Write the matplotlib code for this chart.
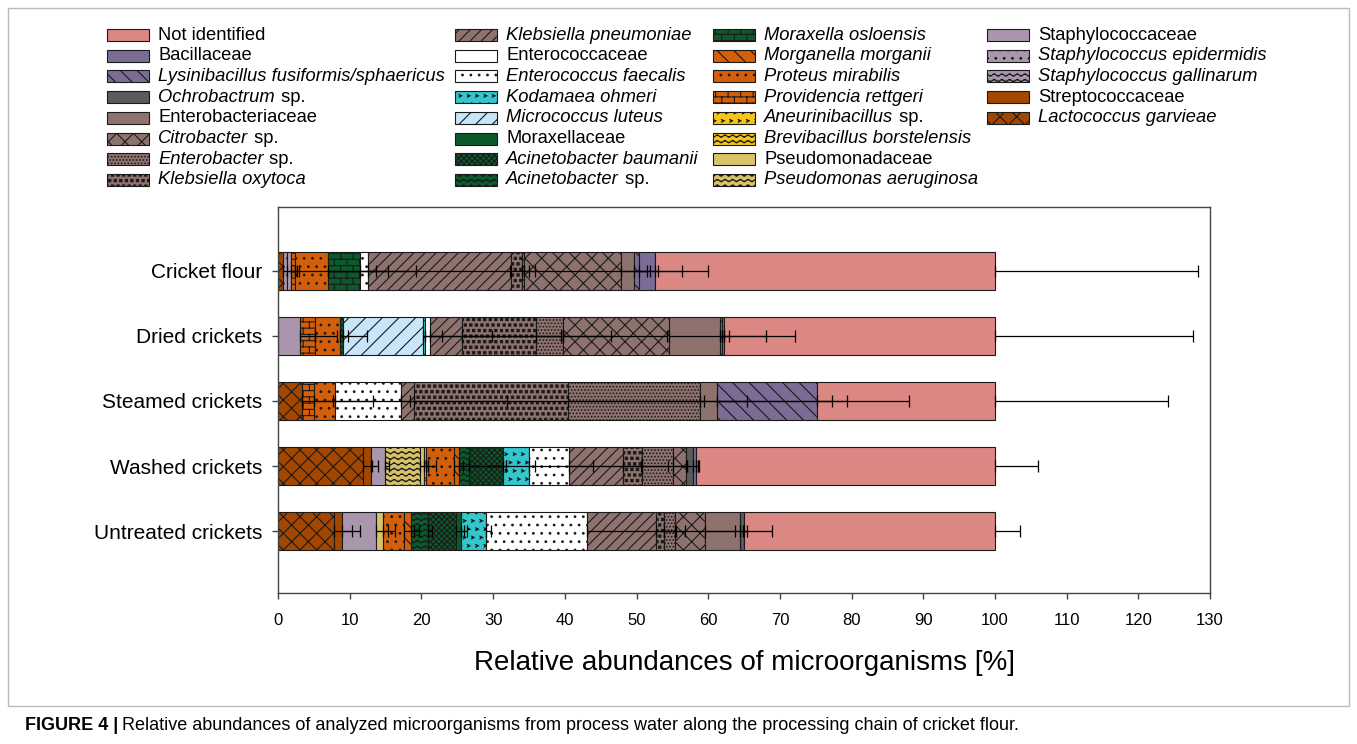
import warnings
import numpy as np
import matplotlib
matplotlib.use('Agg')
import matplotlib.pyplot as plt
import matplotlib.hatch as mhatch
from matplotlib.path import Path
from matplotlib.patches import Rectangle

warnings.filterwarnings('ignore', message='.*hatch must consist.*')

plt.rcParams['font.family'] = ['Liberation Sans', 'DejaVu Sans']
plt.rcParams['hatch.linewidth'] = 0.8

# ---- data (order = legend order) ----
species = ['Not identified', 'Bacillaceae', 'Lysinibacillus fusiformis/sphaericus', 'Ochrobactrum sp.',
           'Enterobacteriaceae', 'Citrobacter sp.', 'Enterobacter sp.', 'Klebsiella oxytoca',
           'Klebsiella pneumoniae', 'Enterococcaceae', 'Enterococcus faecalis', 'Kodamaea ohmeri',
           'Micrococcus luteus', 'Moraxellaceae', 'Acinetobacter baumanii', 'Acinetobacter sp.',
           'Moraxella osloensis', 'Morganella morganii', 'Proteus mirabilis', 'Providencia rettgeri',
           'Aneurinibacillus sp.', 'Brevibacillus borstelensis', 'Pseudomonadaceae', 'Pseudomonas aeruginosa',
           'Staphylococcaceae', 'Staphylococcus epidermidis', 'Staphylococcus gallinarum',
           'Streptococcaceae', 'Lactococcus garvieae']

samples = ['Untreated crickets', 'Washed crickets', 'Steamed crickets', 'Dried crickets', 'Cricket flour']

untreated = [35.0, 0, 0, 0.5, 4.9, 4.2, 1.5, 1.2, 9.65, 0, 14.05, 3.5, 0, 0.7, 3.85, 2.45, 0,
             0.9, 2.9, 0, 0, 0, 1.0, 0, 4.8, 0, 0, 1.05, 7.85]
untreated_sd = [3.5, 0, 0, 0.4, 4.4, 4.2, 9.5, 1.4, 4.1, 0, 12.45, 0.7, 0, 0.5, 1.6, 0.55, 0,
                0.5, 2.0, 0, 0, 0, 0.7, 0, 2.6, 0, 0, 2.5, 2.45]

washed = [41.7, 0.4, 0, 1.0, 0, 1.8, 4.4, 2.65, 7.45, 0, 5.55, 3.65, 0, 0, 4.7, 1.45, 0,
          0.65, 3.9, 0, 0.3, 0, 0.6, 4.9, 1.93, 0, 0, 1.07, 11.9]
washed_sd = [6.0, 0.3, 0, 0.8, 0, 0.2, 3.5, 6.3, 2.6, 0, 13.8, 8.95, 0, 0, 0.4, 9.1, 0,
             0.6, 7.2, 0, 0.2, 0, 1.6, 1.1, 0.6, 0, 0, 1.03, 1.2]

steamed = [24.8, 0, 14.0, 0, 2.4, 0, 18.3, 21.53, 1.77, 0, 9.22, 0, 0, 0, 0, 0, 0,
           0, 2.98, 1.7, 0, 0, 0, 0, 0, 0, 0, 0, 3.3]
steamed_sd = [24.1, 0, 12.8, 0, 18.1, 0, 18.5, 24.9, 40.5, 0, 14.7, 0, 0, 0, 0, 0, 0,
              0, 10.4, 8.3, 0, 0, 0, 0, 0, 0, 0, 0, 4.3]

dried = [37.8, 0.3, 0.2, 0, 7.1, 14.8, 3.75, 10.45, 4.35, 0.7, 0, 0.35, 11.1, 0, 0, 0.47, 0,
         0, 3.44, 2.16, 0, 0, 0, 0, 3.03, 0, 0, 0, 0]
dried_sd = [27.6, 9.9, 0.3, 0, 6.3, 8.3, 14.4, 10.35, 14.1, 18.15, 0, 9.25, 2.6, 0, 0, 0.7, 0,
            0, 3.82, 3.0, 0, 0, 0, 0, 2.17, 0, 0, 0, 0]

flour = [47.4, 2.2, 0.75, 0, 1.75, 13.6, 0.3, 1.5, 19.9, 0, 1.2, 0, 0, 0, 0, 0, 4.4,
         0, 4.6, 0.6, 0, 0, 0, 0, 0.5, 0.6, 0, 0, 0.7]
flour_sd = [28.3, 0.4, 1.5, 0, 6.75, 3.6, 25.7, 1.8, 2.5, 0, 2.8, 0, 0, 0, 0, 0, 21.0,
            0, 12.2, 11.2, 0, 0, 0, 0, 1.1, 1.1, 0, 0, 1.9]

# ---- styles ----
colors = ['#DB8784', '#7B6C96', '#7B6C96', '#5B5B5B',
          '#8E726E', '#8E726E', '#8E726E', '#8E726E',
          '#8E726E', '#FFFFFF', '#FFFFFF', '#33C6CC',
          '#C7E6FA', '#0C5A2B', '#0C5A2B', '#0C5A2B',
          '#0C5A2B', '#D35F0A', '#D35F0A', '#D35F0A',
          '#F5C518', '#F5C518', '#D8C36A', '#D8C36A',
          '#A996AD', '#A996AD', '#A996AD',
          '#A34700', '#A34700']
hatches = [None, None, '\\\\', None,
           None, 'xx', '.....', 'sss',
           '///', None, '..', '>>>',
           '//', None, 'xxxxxx', '~~~',
           'bb', '\\\\', '..', 'bb',
           '>>>', '~~~', None, '~~~',
           None, '..', '~~~',
           None, 'xx']
italic = [False, False, True, True, False, True, True, True, True, False, True, True, True, False,
          True, True, True, True, True, True, True, True, False, True, False, True, True, False, True]


# extra hatch patterns: '~' wavy lines, 'b' brick wall, 's' square dots, '>' chevrons
class WaveHatch(mhatch.HatchPatternBase):
    def __init__(self, hatch, density):
        self.num_lines = int(hatch.count('~') * density)
        self.num_waves = max(1, int(round(self.num_lines * 0.7)))
        self.pts = self.num_waves * 8 + 1
        self.num_vertices = self.num_lines * self.pts

    def set_vertices_and_codes(self, vertices, codes):
        xs = np.linspace(0.0, 1.0, self.pts)
        amp = 0.22 / self.num_lines
        for i in range(self.num_lines):
            y = (i + 0.5) / self.num_lines
            s = slice(i * self.pts, (i + 1) * self.pts)
            vertices[s, 0] = xs
            vertices[s, 1] = y + amp * np.sin(2 * np.pi * self.num_waves * xs)
            codes[s] = Path.LINETO
            codes[i * self.pts] = Path.MOVETO


class BrickHatch(mhatch.HatchPatternBase):
    def __init__(self, hatch, density):
        n = int(hatch.count('b') * density * 1.25)
        self.rows = n + n % 2
        self.cols = max(1, int(round(self.rows * 0.5))) if n else 0
        segs = self.rows + self.rows * self.cols + self.cols
        self.num_vertices = segs * 2 if n else 0

    def set_vertices_and_codes(self, vertices, codes):
        n, m = self.rows, self.cols
        segs = []
        for i in range(n):
            y = (i + 0.5) / n
            segs.append(((0.0, y), (1.0, y)))
        for i in range(n):
            y0 = (i + 0.5) / n
            y1 = min(y0 + 1.0 / n, 1.0)
            shift = 0.5 / m if i % 2 else 0.0
            for j in range(m):
                x = (j + 0.25) / m + shift
                segs.append(((x, y0), (x, y1)))
        shift = 0.5 / m if (n - 1) % 2 else 0.0
        for j in range(m):
            x = (j + 0.25) / m + shift
            segs.append(((x, 0.0), (x, 0.5 / n)))
        vertices[:] = np.array(segs).reshape(-1, 2)
        codes[0::2] = Path.MOVETO
        codes[1::2] = Path.LINETO


def _grid(n):
    pts = []
    for r in range(n):
        shift = 0.5 / n if r % 2 else 0.0
        for c in range(n):
            pts.append(((c + 0.25) / n + shift, (r + 0.5) / n))
    return pts


class SquareDotHatch(mhatch.HatchPatternBase):
    def __init__(self, hatch, density):
        self.n = int(hatch.count('s') * density)
        self.num_vertices = self.n * self.n * 5

    def set_vertices_and_codes(self, vertices, codes):
        a = 0.2 / self.n
        sq = np.array([[-a, -a], [a, -a], [a, a], [-a, a], [-a, -a]])
        for i, (x, y) in enumerate(_grid(self.n)):
            vertices[i * 5:(i + 1) * 5] = sq + [x, y]
            codes[i * 5:(i + 1) * 5] = [Path.MOVETO, Path.LINETO, Path.LINETO, Path.LINETO, Path.CLOSEPOLY]


class ChevronHatch(mhatch.HatchPatternBase):
    def __init__(self, hatch, density):
        self.n = int(hatch.count('>') * density * 0.7)
        self.num_vertices = self.n * self.n * 3

    def set_vertices_and_codes(self, vertices, codes):
        a = 0.16 / self.n
        shape = np.array([[-a, a], [a, 0.0], [-a, -a]])
        for i, (x, y) in enumerate(_grid(self.n)):
            vertices[i * 3:(i + 1) * 3] = shape + [x, y]
            codes[i * 3:(i + 1) * 3] = [Path.MOVETO, Path.LINETO, Path.LINETO]


mhatch._hatch_types.extend([WaveHatch, BrickHatch, SquareDotHatch, ChevronHatch])

values = np.array([untreated, washed, steamed, dried, flour])
errors = np.array([untreated_sd, washed_sd, steamed_sd, dried_sd, flour_sd])
ypos = np.arange(len(samples))

W, H = 1357, 744
fig = plt.figure(figsize=(W / 100, H / 100), dpi=100)
ax = fig.add_axes([0.2049, 0.2030, 0.6868, 0.5188])

edge = '#1a1a1a'
left = np.zeros(len(samples))
bar_ends = np.zeros_like(values)
for k in range(len(species) - 1, -1, -1):
    w = values[:, k]
    m = w > 0
    if m.any():
        ax.barh(ypos[m], w[m], left=left[m], height=0.58, color=colors[k], hatch=hatches[k],
                edgecolor=edge, linewidth=0.8, zorder=2)
    left = left + w
    bar_ends[:, k] = left

# error bars at the end of each segment, positive side only
for k in range(len(species)):
    for i in range(len(samples)):
        if values[i, k] > 0 and errors[i, k] > 0:
            ax.errorbar(bar_ends[i, k], ypos[i], xerr=[[0], [errors[i, k]]], fmt='none',
                        ecolor='black', elinewidth=0.9, capsize=4, capthick=0.9, zorder=4)

ax.set_xlim(0, 130)
ax.set_ylim(-0.95, 4.98)
ax.set_xticks(np.arange(0, 131, 10))
ax.set_yticks(ypos)
ax.set_yticklabels(samples, fontsize=15)
ax.tick_params(axis='x', labelsize=12, length=4.5, width=1, color='#444444', pad=10)
ax.tick_params(axis='y', length=4.5, width=1, color='#444444', pad=7)
for sp in ax.spines.values():
    sp.set_color('#444444')
    sp.set_linewidth(1)
ax.set_xlabel('Relative abundances of microorganisms [%]', fontsize=20, labelpad=16)

# legend: 4 columns of 8 rows, drawn in figure pixels
fig.canvas.draw()
renderer = fig.canvas.get_renderer()
col_x = [107, 455, 713, 987]
row_y0, row_dy = 35, 20.7
for n in range(len(species)):
    c, r = divmod(n, 8)
    x, y = col_x[c], row_y0 + r * row_dy
    fig.patches.append(Rectangle((x / W, 1 - (y + 6) / H), 42 / W, 12 / H, transform=fig.transFigure,
                                 facecolor=colors[n], edgecolor=edge, hatch=hatches[n], linewidth=0.8))
    name = species[n]
    tx = (x + 51) / W
    ty = 1 - y / H
    if italic[n] and name.endswith(' sp.'):
        t = fig.text(tx, ty, name[:-4], fontsize=13.2, fontstyle='italic', va='center')
        bb = t.get_window_extent(renderer)
        fig.text((bb.x1 + 1) / W, ty, ' sp.', fontsize=13.2, va='center')
    else:
        fig.text(tx, ty, name, fontsize=13.2, fontstyle='italic' if italic[n] else 'normal', va='center')

# frame around the figure and caption
fig.patches.append(Rectangle((8 / W, 1 - 706 / H), 1341 / W, 698 / H, transform=fig.transFigure,
                             fill=False, edgecolor='#bbbbbb', linewidth=1))
t1 = fig.text(25 / W, 1 - 726 / H, 'FIGURE 4 |', fontsize=13, fontweight='bold', va='center')
bb = t1.get_window_extent(renderer)
fig.text((bb.x1 + 4) / W, 1 - 726 / H,
         'Relative abundances of analyzed microorganisms from process water along the processing chain of cricket flour.',
         fontsize=13, va='center')

fig.savefig('out.png', dpi=100)
